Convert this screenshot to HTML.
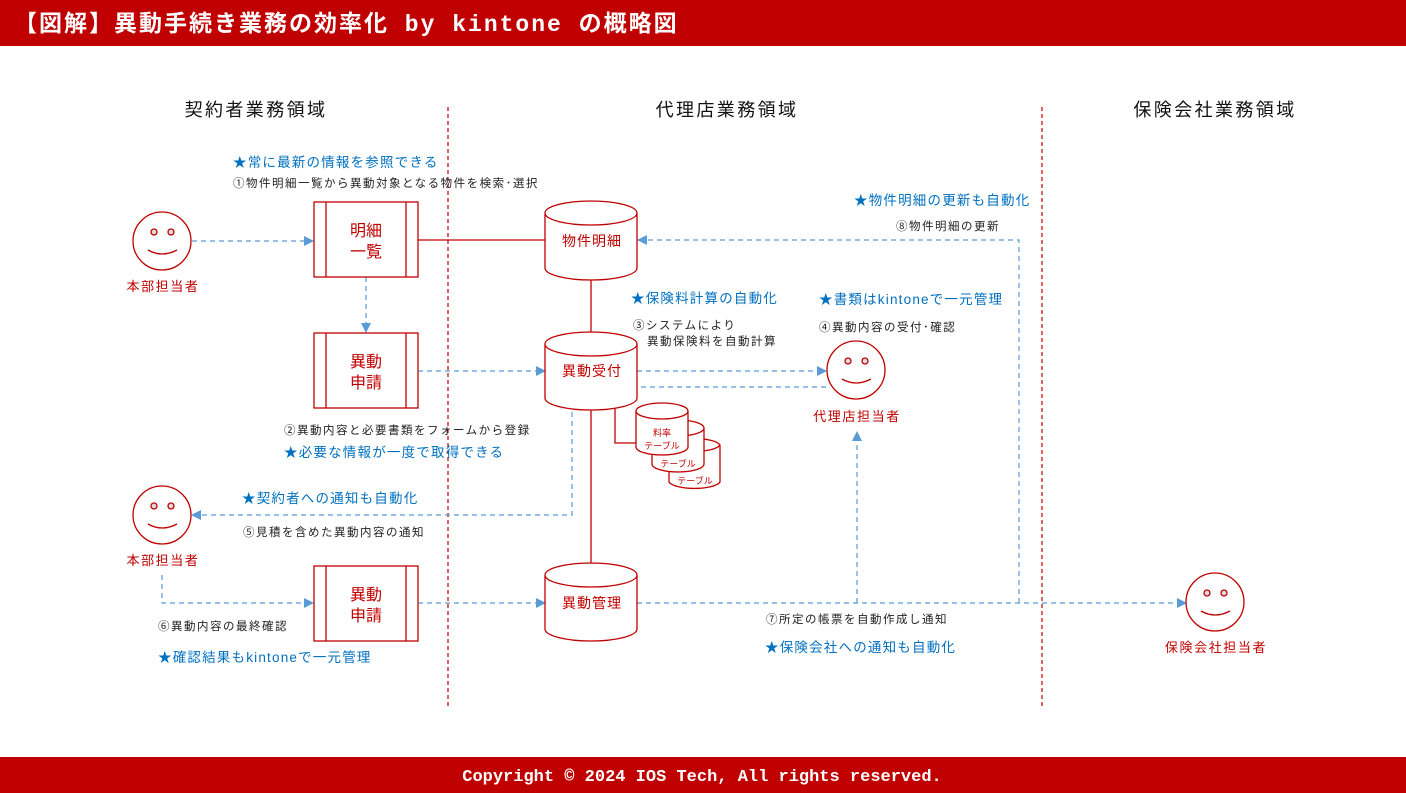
<!DOCTYPE html>
<html><head><meta charset="utf-8"><style>
html,body{margin:0;padding:0;background:#fff}
svg{display:block}
text{font-family:"Liberation Sans","Noto Sans CJK JP",sans-serif}
.r{fill:#c00000}.b{fill:#0070c0}.k{fill:#222}
</style></head><body>
<svg width="1406" height="793" viewBox="0 0 1406 793" xmlns="http://www.w3.org/2000/svg">
<defs>
<marker id="a" markerWidth="10" markerHeight="10" refX="9" refY="5" orient="auto" markerUnits="userSpaceOnUse"><path d="M0,0 L10,5 L0,10 z" fill="#5b9bd5"/></marker>
</defs>
<rect x="0" y="0" width="1406" height="46" fill="#c00000"/>
<text x="14" y="31" fill="#fff" font-size="23" font-weight="bold" letter-spacing="2" style="font-family:'Liberation Mono','Noto Sans CJK JP',monospace">【図解】異動手続き業務の効率化 by kintone の概略図</text>
<rect x="0" y="757" width="1406" height="36" fill="#c00000"/>
<text x="702" y="781" fill="#fff" font-size="17" font-weight="bold" text-anchor="middle" style="font-family:'Liberation Mono',monospace">Copyright © 2024 IOS Tech, All rights reserved.</text>

<g font-size="18" fill="#111" text-anchor="middle" letter-spacing="2.4">
<text x="256" y="116">契約者業務領域</text>
<text x="727" y="116">代理店業務領域</text>
<text x="1215" y="116">保険会社業務領域</text>
</g>
<g stroke="#c00000" stroke-width="1.2" stroke-dasharray="4,3">
<line x1="448" y1="107" x2="448" y2="706"/>
<line x1="1042" y1="107" x2="1042" y2="706"/>
</g>

<g stroke="#c00000" stroke-width="1.3" fill="none">
<line x1="418" y1="240" x2="545" y2="240"/>
<line x1="591" y1="280" x2="591" y2="332"/>
<line x1="591" y1="410" x2="591" y2="563"/>
<polyline points="615,408 615,443 636,443"/>
</g>

<g stroke="#5b9bd5" stroke-width="1.2" stroke-dasharray="5,4" fill="none">
<line x1="192" y1="241" x2="313" y2="241" marker-end="url(#a)"/>
<line x1="366" y1="277" x2="366" y2="332" marker-end="url(#a)"/>
<line x1="418" y1="371" x2="545" y2="371" marker-end="url(#a)"/>
<line x1="637" y1="371" x2="826" y2="371" marker-end="url(#a)"/>
<polyline points="826,387 572,387 572,515 192,515" marker-end="url(#a)"/>
<polyline points="162,575 162,603 313,603" marker-end="url(#a)"/>
<line x1="418" y1="603" x2="545" y2="603" marker-end="url(#a)"/>
<line x1="637" y1="603" x2="1186" y2="603" marker-end="url(#a)"/>
<line x1="857" y1="603" x2="857" y2="432" marker-end="url(#a)"/>
<polyline points="1019,603 1019,240 638,240" marker-end="url(#a)"/>
</g>

<g stroke="#c00000" stroke-width="1.3" fill="#fff">
<g transform="translate(162,241)"><circle r="29"/><circle cx="-8" cy="-9" r="3" fill="#ddd"/><circle cx="9" cy="-9" r="3" fill="#ddd"/><path d="M-14,9 Q0,17 15,9" fill="none"/></g>
<g transform="translate(856,370)"><circle r="29"/><circle cx="-8" cy="-9" r="3" fill="#ddd"/><circle cx="9" cy="-9" r="3" fill="#ddd"/><path d="M-14,9 Q0,17 15,9" fill="none"/></g>
<g transform="translate(162,515)"><circle r="29"/><circle cx="-8" cy="-9" r="3" fill="#ddd"/><circle cx="9" cy="-9" r="3" fill="#ddd"/><path d="M-14,9 Q0,17 15,9" fill="none"/></g>
<g transform="translate(1215,602)"><circle r="29"/><circle cx="-8" cy="-9" r="3" fill="#ddd"/><circle cx="9" cy="-9" r="3" fill="#ddd"/><path d="M-14,9 Q0,17 15,9" fill="none"/></g>
</g>
<g font-size="13" class="r" text-anchor="middle" letter-spacing="1.6">
<text x="163" y="291">本部担当者</text>
<text x="857" y="421">代理店担当者</text>
<text x="163" y="565">本部担当者</text>
<text x="1216" y="652">保険会社担当者</text>
</g>

<g stroke="#c00000" stroke-width="1.3" fill="#fff">
<rect x="314" y="202" width="104" height="75"/><line x1="326" y1="202" x2="326" y2="277"/><line x1="406" y1="202" x2="406" y2="277"/>
<rect x="314" y="333" width="104" height="75"/><line x1="326" y1="333" x2="326" y2="408"/><line x1="406" y1="333" x2="406" y2="408"/>
<rect x="314" y="566" width="104" height="75"/><line x1="326" y1="566" x2="326" y2="641"/><line x1="406" y1="566" x2="406" y2="641"/>
</g>
<g font-size="16" class="r" text-anchor="middle">
<text x="366" y="236">明細</text><text x="366" y="257">一覧</text>
<text x="366" y="367">異動</text><text x="366" y="388">申請</text>
<text x="366" y="600">異動</text><text x="366" y="621">申請</text>
</g>

<g stroke="#c00000" stroke-width="1.3" fill="#fff">
<path d="M545,213 L545,268 A46,12 0 0 0 637,268 L637,213 A46,12 0 0 0 545,213 A46,12 0 0 0 637,213"/>
<path d="M545,344 L545,398 A46,12 0 0 0 637,398 L637,344 A46,12 0 0 0 545,344 A46,12 0 0 0 637,344"/>
<path d="M545,575 L545,629 A46,12 0 0 0 637,629 L637,575 A46,12 0 0 0 545,575 A46,12 0 0 0 637,575"/>
<path d="M669,445 L669,482 A26,8 0 0 0 720,482 L720,445 A26,8 0 0 0 669,445 A26,8 0 0 0 720,445"/>
<path d="M652,428 L652,464 A26,8 0 0 0 704,464 L704,428 A26,8 0 0 0 652,428 A26,8 0 0 0 704,428"/>
<path d="M636,411 L636,447 A26,8 0 0 0 688,447 L688,411 A26,8 0 0 0 636,411 A26,8 0 0 0 688,411"/>
</g>
<g font-size="14" class="r" text-anchor="middle" letter-spacing="1">
<text x="592" y="246">物件明細</text>
<text x="592" y="376">異動受付</text>
<text x="592" y="608">異動管理</text>
</g>
<g font-size="9" class="r" text-anchor="middle">
<text x="662" y="436">料率</text><text x="662" y="449">テーブル</text>
<text x="678" y="467">テーブル</text>
<text x="695" y="484">テーブル</text>
</g>

<g font-size="13.5" class="b" letter-spacing="1.2">
<text x="233" y="167">★常に最新の情報を参照できる</text>
<text x="854" y="205">★物件明細の更新も自動化</text>
<text x="631" y="303">★保険料計算の自動化</text>
<text x="819" y="304">★書類はkintoneで一元管理</text>
<text x="284" y="457">★必要な情報が一度で取得できる</text>
<text x="242" y="503">★契約者への通知も自動化</text>
<text x="158" y="662">★確認結果もkintoneで一元管理</text>
<text x="765" y="652">★保険会社への通知も自動化</text>
</g>
<g font-size="11.5" class="k" letter-spacing="1.5">
<text x="233" y="187">①物件明細一覧から異動対象となる物件を検索･選択</text>
<text x="896" y="230">⑧物件明細の更新</text>
<text x="633" y="329">③システムにより</text>
<text x="647" y="345">異動保険料を自動計算</text>
<text x="819" y="331">④異動内容の受付･確認</text>
<text x="284" y="434">②異動内容と必要書類をフォームから登録</text>
<text x="243" y="536">⑤見積を含めた異動内容の通知</text>
<text x="158" y="630">⑥異動内容の最終確認</text>
<text x="766" y="623">⑦所定の帳票を自動作成し通知</text>
</g>
</svg>
</body></html>
